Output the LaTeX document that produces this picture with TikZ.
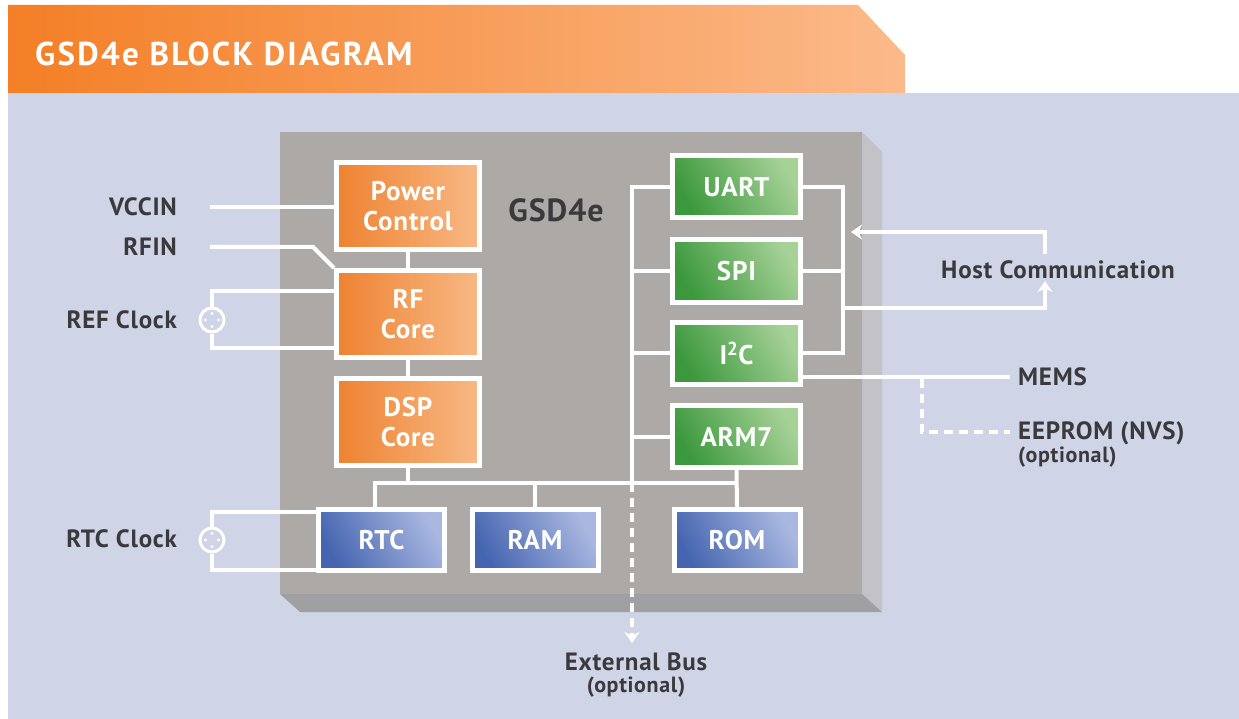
\documentclass[tikz,border=0pt]{standalone}
\usepackage{fontspec}
\setmainfont{PT Sans}
\newfontfamily\wideb[LetterSpace=3]{PT Sans}
\newfontfamily\titleb[LetterSpace=7]{PT Sans}
\usetikzlibrary{arrows.meta}
\definecolor{bg}{HTML}{CFD4E6}
\definecolor{banA}{HTML}{F47F26}
\definecolor{banB}{HTML}{FBBA8A}
\definecolor{orA}{HTML}{EE8231}
\definecolor{orB}{HTML}{F8B985}
\definecolor{grA}{HTML}{3B983C}
\definecolor{grB}{HTML}{A6D197}
\definecolor{blA}{HTML}{4565B0}
\definecolor{blB}{HTML}{AAB8E1}
\definecolor{chip}{HTML}{ADA9A6}
\definecolor{chipside}{HTML}{C3C2C6}
\definecolor{chipbot}{HTML}{A09FA1}
\definecolor{ink}{HTML}{3A3A3C}
\begin{document}
\begin{tikzpicture}[x=1pt,y=-1pt,
  blk/.style={draw=white, line width=5pt, inner sep=0pt, text=white,
    font=\wideb\bfseries\fontsize{27}{30}\selectfont, align=center},
  orblk/.style={blk, left color=orA, right color=orB, minimum width=143pt, minimum height=87pt},
  grblk/.style={blk, left color=grA, right color=grB, shading angle=120, minimum width=128pt, minimum height=62pt},
  blblk/.style={blk, left color=blA, right color=blB, shading angle=120, minimum width=126pt, minimum height=61pt},
  wire/.style={white, line width=4pt},
  dwire/.style={white, line width=4pt, dash pattern=on 9pt off 6pt},
  tip/.style={-{Stealth[width=15pt,length=11pt]}},
  lbl/.style={text=ink, font=\wideb\bfseries\fontsize{25}{27}\selectfont, inner sep=0pt},
  sml/.style={text=ink, font=\wideb\bfseries\fontsize{22}{24}\selectfont, inner sep=0pt},
  osc/.style={circle, draw=white, line width=3pt, minimum size=24pt, inner sep=0pt}
]
\useasboundingbox (0,0) rectangle (1239,719);
\fill[white] (0,0) rectangle (1239,719);
\fill[bg] (8,93) rectangle (1239,719);
% banner
\shade[left color=banA, right color=banB] (8,5) -- (858,5) -- (905,55) -- (905,93) -- (8,93) -- cycle;
\node[anchor=base west, text=white, inner sep=0pt, font=\titleb\bfseries\fontsize{33}{33}\selectfont] (title) at (35,66) {GSD4e BLOCK DIAGRAM};
% chip
\fill[chipside] (862,132) -- (882,152) -- (882,612) -- (862,594) -- cycle;
\fill[chipbot] (280,594) -- (862,594) -- (882,612) -- (300,612) -- cycle;
\fill[chip] (280,132) rectangle (862,594);
\node[text=ink, font=\wideb\bfseries\fontsize{32}{32}\selectfont, inner sep=0pt] (gsd) at (556,210) {GSD4e};

% blocks
\node[orblk] (pc) at (408,206) {Power\\Control};
\node[orblk] (rf) at (408,314) {RF\\Core};
\node[orblk] (dsp) at (408,422) {DSP\\Core};
\node[grblk] (uart) at (736.5,187) {UART};
\node[grblk] (spi) at (736.5,271) {SPI};
\node[grblk] (i2c) at (736.5,353) {I\textsuperscript{2}C};
\node[grblk] (arm) at (736.5,436.5) {ARM7};
\node[blblk] (rtc) at (381.5,540) {RTC};
\node[blblk] (ram) at (535,540) {RAM};
\node[blblk] (rom) at (737,540) {ROM};

% left labels
\node[lbl, anchor=east] (vcc) at (177,207) {VCCIN};
\node[lbl, anchor=east] (rfin) at (177,247) {RFIN};
\node[lbl, anchor=east] (refc) at (177,320) {REF Clock};
\node[lbl, anchor=east] (rtcc) at (177,539) {RTC Clock};

% oscillators
\node[osc] (o1) at (212,320) {};
\node[osc] (o2) at (212,540) {};
\foreach \c in {o1,o2}{
  \fill[white] ([yshift=6.5pt]\c.center) circle (1.7pt);
  \fill[white] ([yshift=-6.5pt]\c.center) circle (1.7pt);
  \fill[white] ([xshift=6.5pt]\c.center) circle (1.7pt);
  \fill[white] ([xshift=-6.5pt]\c.center) circle (1.7pt);
}

% left wires
\coordinate (v0) at (210,207);
\draw[wire] (v0) -- (pc.west |- v0);
\coordinate (f0) at (210,247);
\coordinate (f1) at (313,247);
\draw[wire] (f0) -- (f1) -- (rf.north west);
\coordinate (r1) at (212,291);
\coordinate (r2) at (212,348);
\draw[wire] (o1.north) -- (r1) -- (rf.west |- r1);
\draw[wire] (o1.south) -- (r2) -- (rf.west |- r2);
\coordinate (t1) at (212,512);
\coordinate (t2) at (212,570);
\draw[wire] (o2.north) -- (t1) -- (rtc.west |- t1);
\draw[wire] (o2.south) -- (t2) -- (rtc.west |- t2);

% orange chain
\draw[wire] (pc.south) -- (rf.north);
\draw[wire] (rf.south) -- (dsp.north);

% bus
\coordinate (b0) at (375,483);
\draw[wire] (dsp.south) -- (dsp.south |- b0);
\draw[wire] (rtc.north -| b0) -- (b0) -- (b0 -| rom.north);
\draw[wire] (ram.north) -- (ram.north |- b0);
\draw[wire] (arm.south) -- (rom.north);

% spine
\coordinate (s0) at (632,187);
\coordinate (s1) at (632,483);
\coordinate (s2) at (632,643);
\draw[wire] (uart.west) -- (s0) -- (s1);
\draw[wire] (s0 |- spi.west) -- (spi.west);
\draw[wire] (s0 |- i2c.west) -- (i2c.west);
\draw[wire] (s0 |- arm.west) -- (arm.west);
\draw[dwire, tip] (s1) -- (s2);

% bracket
\coordinate (u1) at (843,187);
\coordinate (u2) at (843,353);
\draw[wire] (uart.east) -- (u1) -- (u2) -- (i2c.east);
\draw[wire] (spi.east) -- (spi.east -| u1);

% host communication
\coordinate (h1) at (1045,254);
\coordinate (h2) at (1045,232);
\coordinate (h3) at (851,232);
\draw[wire, tip] (h1) -- (h2) -- (h3);
\coordinate (h4) at (843,308);
\coordinate (h5) at (1045,308);
\coordinate (h6) at (1045,281);
\draw[wire, tip] (h4) -- (h5) -- (h6);
\node[lbl] (host) at (1058,270) {Host Communication};

% MEMS / EEPROM
\coordinate (m1) at (1010,377);
\draw[wire] (i2c.east |- m1) -- (m1);
\node[lbl, anchor=west] (mems) at (1018,377) {MEMS};
\coordinate (e0) at (922,379);
\coordinate (e1) at (922,432);
\coordinate (e2) at (1010,432);
\draw[dwire] (e0) -- (e1) -- (e2);
\node[lbl, anchor=west] (eep) at (1018,433) {EEPROM (NVS)};
\node[sml, anchor=west] (eepo) at (1018,457) {(optional)};

% external bus
\node[lbl] (ext) at (636,662) {External Bus};
\node[sml] (exto) at (636,687) {(optional)};
\end{tikzpicture}
\end{document}
